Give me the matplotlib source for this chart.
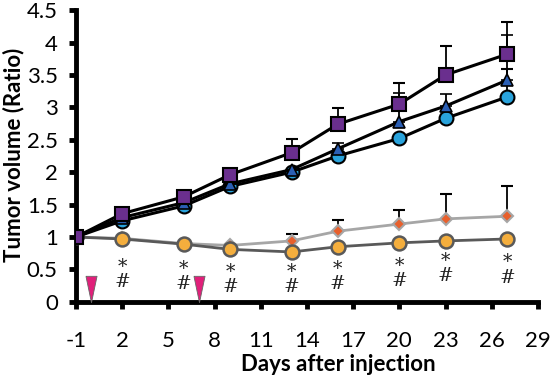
import matplotlib
matplotlib.use("Agg")
import matplotlib.pyplot as plt
import numpy as np

plt.rcParams['font.family'] = ['Lato', 'DejaVu Sans']
plt.rcParams['axes.unicode_minus'] = False

days = [-1, 2, 6, 9, 13, 16, 20, 23, 27]

purple = [1.0, 1.36, 1.62, 1.96, 2.30, 2.74, 3.05, 3.50, 3.82]
purple_err = [0, 0, 0, 0, 0.21, 0.25, 0.33, 0.44, 0.50]

blue = [1.0, 1.30, 1.53, 1.82, 2.04, 2.36, 2.78, 3.02, 3.42]
blue_err = [0, 0, 0, 0, 0, 0.09, 0.44, 0.18, 0.69]

cyan = [1.0, 1.25, 1.48, 1.78, 2.00, 2.25, 2.52, 2.83, 3.16]
cyan_err = [0, 0, 0, 0, 0, 0, 0, 0, 0.43]

diamond = [1.0, 0.98, 0.90, 0.87, 0.94, 1.09, 1.20, 1.28, 1.32]
diamond_err = [0, 0, 0, 0, 0.11, 0.17, 0.22, 0.38, 0.46]

orange = [1.0, 0.97, 0.89, 0.81, 0.77, 0.85, 0.91, 0.94, 0.97]

sig_days = [2, 6, 9, 13, 16, 20, 23, 27]
sig_label = '*\n#'
sig_y = [0.42, 0.39, 0.35, 0.35, 0.39, 0.44, 0.52, 0.49]

inj_days = [0, 7]
inj_level = [0.2, 0.2]

fig = plt.figure(figsize=(5.5, 3.89), dpi=100)
ax = fig.add_axes([0.138, 0.224, 0.840, 0.750])

def errs(e):
    return [np.zeros(len(e)), e]

# gray series
ax.errorbar(days, diamond, yerr=errs(diamond_err), color='#a6a6a6', lw=2.0,
            ecolor='black', elinewidth=1.3, capsize=4.5, capthick=1.3,
            marker='D', ms=6, mfc='#e8602c', mec='#a6a6a6', mew=1.5, zorder=3)
ax.plot(days, orange, color='#595959', lw=2.0, marker='o', ms=10,
        mfc='#f4ae3d', mec='#595959', mew=1.8, zorder=4)

# black series
ax.errorbar(days, cyan, yerr=errs(cyan_err), color='black', lw=2.2,
            ecolor='black', elinewidth=1.3, capsize=4.5, capthick=1.3,
            marker='o', ms=10, mfc='#29a3dc', mec='black', mew=1.5, zorder=5)
ax.errorbar(days, blue, yerr=errs(blue_err), color='black', lw=2.2,
            ecolor='black', elinewidth=1.3, capsize=4.5, capthick=1.3,
            marker='^', ms=9, mfc='#2b5fb4', mec='black', mew=1.2, zorder=6)
ax.errorbar(days, purple, yerr=errs(purple_err), color='black', lw=2.2,
            ecolor='black', elinewidth=1.3, capsize=4.5, capthick=1.3,
            marker='s', ms=10, mfc='#6a2f8e', mec='black', mew=1.5, zorder=7)

for d, y in zip(sig_days, sig_y):
    ax.text(d, y, sig_label, ha='center', va='center', fontsize=13.5,
            family='DejaVu Serif', color='#222222', linespacing=0.8)

tri = [(-0.42, 1.0), (0.42, 1.0), (0.0, -1.0), (-0.42, 1.0)]
ax.plot(inj_days, inj_level, marker=tri, ms=19, mfc='#e0207a', mec='#666666', mew=0.6,
        linestyle='none', zorder=8)

ax.set_xlim(-1, 29)
ax.set_ylim(0, 4.5)
ax.set_xticks(np.arange(-1, 30, 3))
ax.set_yticks(np.arange(0, 4.6, 0.5))
ax.set_yticklabels(['0', '0.5', '1', '1.5', '2', '2.5', '3', '3.5', '4', '4.5'])
ax.tick_params(axis='both', labelsize=16, width=3.5, length=5, direction='out')
ax.tick_params(axis='x', pad=16)
ax.tick_params(axis='y', pad=8)
for s in ['top', 'right']:
    ax.spines[s].set_visible(False)
for s in ['left', 'bottom']:
    ax.spines[s].set_linewidth(3.5)

ax.set_xlabel('Days after injection', fontsize=16, fontweight='bold')
ax.xaxis.set_label_coords(0.567, -0.18)
ax.set_ylabel('Tumor volume (Ratio)', fontsize=16, fontweight='bold')
ax.yaxis.set_label_coords(-0.112, 0.503)

fig.savefig('out.png', dpi=100)
